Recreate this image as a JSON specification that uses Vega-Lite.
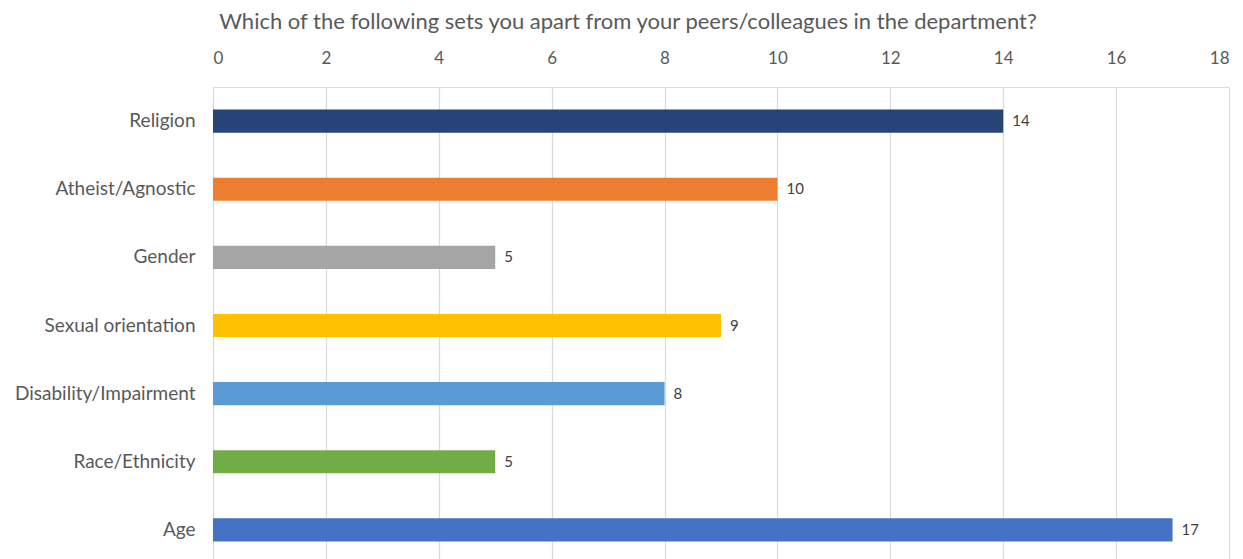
{
  "$schema": "https://vega.github.io/schema/vega-lite/v6.json",
  "autosize": {"type": "none"},
  "padding": {"left": 213, "top": 87, "right": 14, "bottom": 0},
  "width": 1016,
  "height": 477,
  "background": "white",
  "title": {
    "text": "Which of the following sets you apart from your peers/colleagues in the department?",
    "font": "Lato",
    "fontSize": 22,
    "fontWeight": "normal",
    "color": "#595959",
    "anchor": "middle",
    "dx": -93,
    "offset": 15
  },
  "data": {
    "values": [
      {"category": "Religion", "count": 14},
      {"category": "Atheist/Agnostic", "count": 10},
      {"category": "Gender", "count": 5},
      {"category": "Sexual orientation", "count": 9},
      {"category": "Disability/Impairment", "count": 8},
      {"category": "Race/Ethnicity", "count": 5},
      {"category": "Age", "count": 17}
    ]
  },
  "encoding": {
    "y": {
      "field": "category",
      "type": "nominal",
      "sort": null,
      "scale": {"paddingInner": 0.66, "paddingOuter": 0.33},
      "axis": {
        "title": null,
        "domain": false,
        "ticks": false,
        "labelFont": "Lato",
        "labelFontSize": 19,
        "labelColor": "#595959",
        "labelPadding": 18,
        "labelLimit": 400
      }
    },
    "x": {
      "field": "count",
      "type": "quantitative",
      "scale": {"domain": [0, 18]},
      "axis": {
        "orient": "top",
        "title": null,
        "values": [0, 2, 4, 6, 8, 10, 12, 14, 16, 18],
        "domain": false,
        "ticks": false,
        "grid": true,
        "gridColor": "#d9d9d9",
        "gridWidth": 1.2,
        "labelFont": "Lato",
        "labelFontSize": 17,
        "labelColor": "#595959",
        "labelPadding": 20
      }
    }
  },
  "layer": [
    {
      "mark": {"type": "bar"},
      "encoding": {
        "color": {
          "field": "category",
          "type": "nominal",
          "legend": null,
          "scale": {
            "domain": ["Religion", "Atheist/Agnostic", "Gender", "Sexual orientation", "Disability/Impairment", "Race/Ethnicity", "Age"],
            "range": ["#264478", "#ED7D31", "#A5A5A5", "#FFC000", "#5B9BD5", "#70AD47", "#4472C4"]
          }
        }
      }
    },
    {
      "mark": {"type": "text", "align": "left", "dx": 9, "font": "Lato", "fontSize": 15, "color": "#404040"},
      "encoding": {"text": {"field": "count", "type": "quantitative"}}
    }
  ]
}
